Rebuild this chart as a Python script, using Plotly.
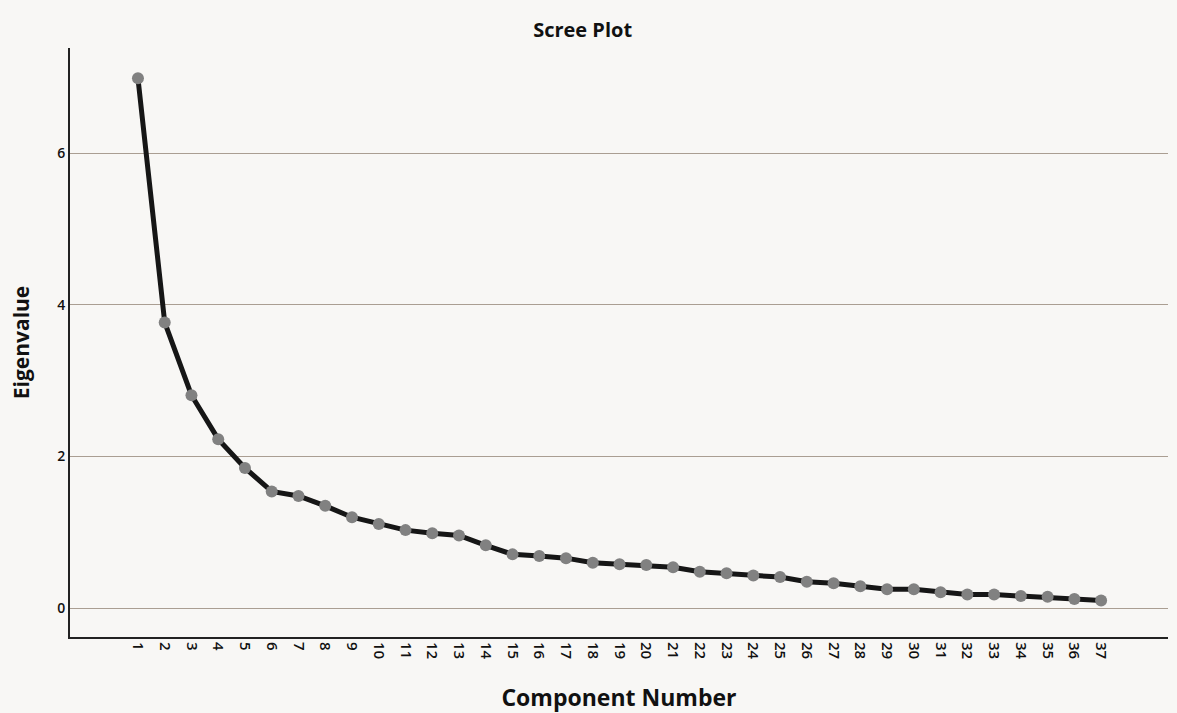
import plotly.graph_objects as go

components = list(range(1, 38))
eigenvalues = [6.99, 3.77, 2.81, 2.23, 1.85, 1.54, 1.48, 1.35, 1.20, 1.11,
               1.03, 0.99, 0.96, 0.83, 0.71, 0.69, 0.66, 0.60, 0.58, 0.57,
               0.54, 0.48, 0.46, 0.43, 0.41, 0.35, 0.33, 0.29, 0.25, 0.25,
               0.21, 0.18, 0.18, 0.16, 0.15, 0.12, 0.10]
y_ticks = [0, 2, 4, 6]

FONT = "Open Sans"

fig = go.Figure()
fig.add_trace(go.Scatter(
    x=components, y=eigenvalues, mode="lines+markers",
    line=dict(color="#161616", width=5),
    marker=dict(color="#818181", size=12, line=dict(width=0)),
    showlegend=False,
))

fig.update_layout(
    width=1177, height=713,
    paper_bgcolor="#f8f7f5", plot_bgcolor="#f8f7f5",
    margin=dict(l=70, r=9, t=48, b=76, autoexpand=False),
    font=dict(family=FONT, color="#111111"),
    title=dict(text="<b>Scree Plot</b>", x=0.495, xanchor="center",
               y=1 - 30 / 713, yanchor="middle", yref="container",
               font=dict(size=20, family=FONT, color="#111111")),
    xaxis=dict(
        range=[-1.54, 39.5], tickmode="array", tickvals=components,
        ticktext=[str(c) for c in components], tickangle=90,
        tickfont=dict(size=15, family=FONT, weight=600), showgrid=False,
        zeroline=False, showline=True, linecolor="#222222", linewidth=2,
        ticks="", automargin=False,
        title=dict(text="<b>Component Number</b>", standoff=32,
                   font=dict(size=23, family=FONT)),
    ),
    yaxis=dict(
        range=[-0.38, 7.39], tickmode="array", tickvals=y_ticks,
        tickfont=dict(size=14, family=FONT, weight=600), showgrid=True,
        gridcolor="#aa9e92", gridwidth=1.2, zeroline=False,
        showline=True, linecolor="#222222", linewidth=2, ticks="",
        automargin=False,
        title=dict(text="<b>Eigenvalue</b>", standoff=22,
                   font=dict(size=21, family=FONT)),
    ),
)

fig.write_html("out.html", config={"displayModeBar": False},
               post_script="document.body.style.margin='0';document.body.style.padding='0';")
